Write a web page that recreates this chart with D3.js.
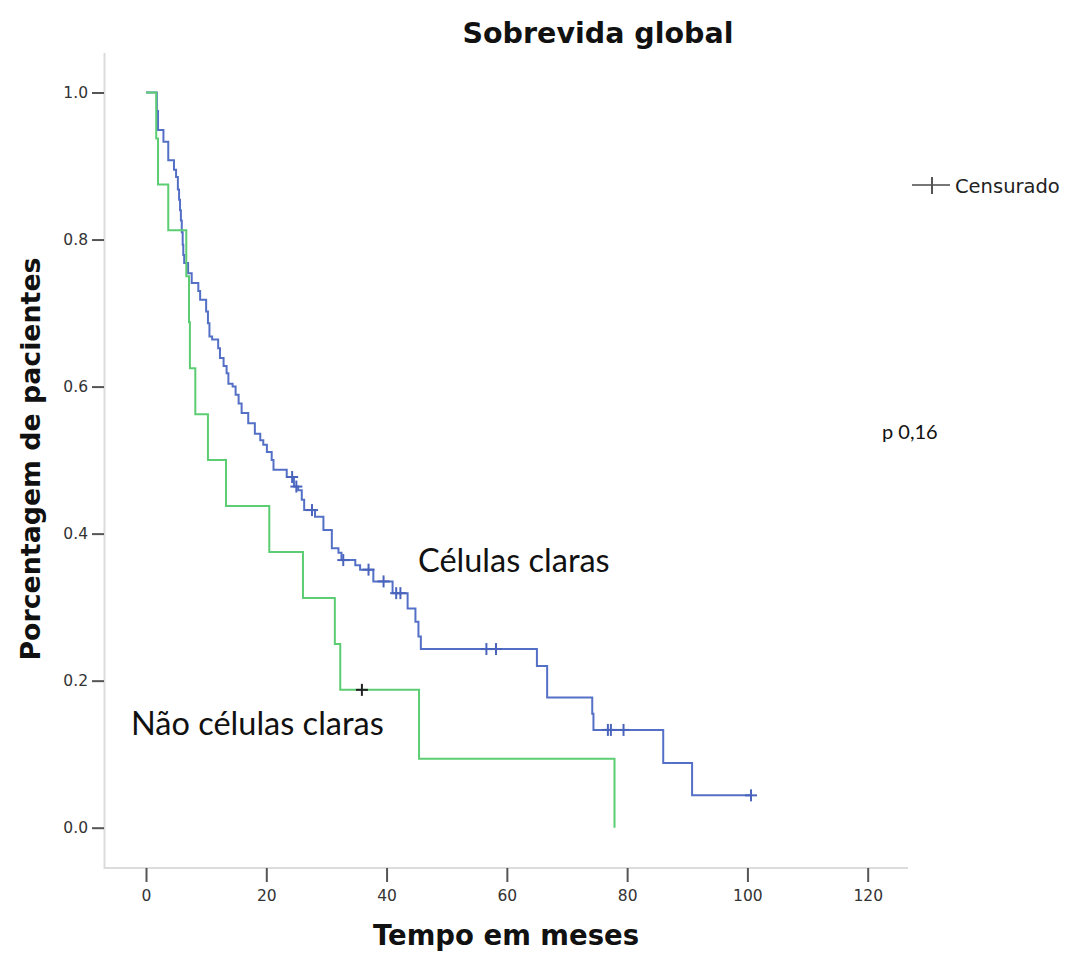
<!DOCTYPE html>
<html>
<head>
<meta charset="utf-8">
<script src="https://cdn.jsdelivr.net/npm/d3@7"></script>
<style>
  html, body { margin: 0; padding: 0; background: #fff; }
  svg { display: block; }
</style>
</head>
<body>
<svg id="chart" width="1068" height="954"></svg>
<script>
// Kaplan–Meier: overall survival by histology
const xTicks = [0, 20, 40, 60, 80, 100, 120];
const yTicks = [0.0, 0.2, 0.4, 0.6, 0.8, 1.0];

// Células claras: event times (months) and survival after each event
const claraTimes = [1.8, 2.0, 2.9, 3.7, 4.65, 5.0, 5.3, 5.5, 5.66, 5.8, 5.95, 6.1, 6.2, 6.35,
  7.0, 7.6, 8.7, 9.0, 10.0, 10.3, 10.55, 11.0, 12.0, 12.3, 12.9, 13.4, 13.7, 14.4, 14.9,
  15.4, 15.9, 17.0, 18.1, 19.0, 19.5, 20.1, 20.9, 21.2, 23.4, 24.6, 25.3, 25.9, 26.3,
  28.1, 29.5, 30.9, 32.0, 32.5, 34.8, 35.6, 37.8, 41.0, 43.5, 44.8, 45.3, 45.7, 65.0,
  66.7, 74.2, 74.4, 86.0, 90.8];
const claraSurv = [0.975, 0.949, 0.933, 0.908, 0.895, 0.885, 0.868, 0.854, 0.840, 0.826,
  0.810, 0.793, 0.779, 0.768, 0.754, 0.741, 0.730, 0.718, 0.702, 0.686, 0.668, 0.664,
  0.652, 0.639, 0.628, 0.618, 0.604, 0.600, 0.589, 0.577, 0.564, 0.550, 0.536, 0.527,
  0.521, 0.511, 0.500, 0.487, 0.477, 0.464, 0.459, 0.446, 0.432, 0.423, 0.405, 0.380,
  0.374, 0.364, 0.357, 0.351, 0.335, 0.319, 0.298, 0.280, 0.260, 0.243, 0.220, 0.177,
  0.155, 0.133, 0.088, 0.044];
const claraCensorTimes = [24.3, 25.0, 27.6, 32.8, 37.0, 39.5, 41.6, 42.3, 56.6, 58.2,
  76.8, 77.3, 79.4, 100.6];
const claraEnd = 100.6;

// Não células claras
const naoTimes = [1.7, 2.0, 3.7, 6.7, 7.15, 7.3, 8.2, 10.3, 13.3, 20.5, 26.1, 31.4, 32.3, 45.4, 77.9];
const naoSurv = [0.9375, 0.875, 0.8125, 0.75, 0.6875, 0.625, 0.5625, 0.5, 0.4375, 0.375,
  0.3125, 0.25, 0.1875, 0.09375, 0];
const naoCensorTimes = [35.9];
const naoEnd = 77.9;

const svg = d3.select("#chart");

const x = d3.scaleLinear().domain([0, 120]).range([146, 867.7]);
const y = d3.scaleLinear().domain([0, 1]).range([827.7, 92.5]);

// survival value at time t (right-continuous step function)
function survAt(times, surv, t) {
  let s = 1;
  for (let i = 0; i < times.length; i++) if (times[i] <= t) s = surv[i];
  return s;
}

function curvePoints(times, surv, end) {
  const pts = [[0, 1]];
  times.forEach((t, i) => pts.push([t, surv[i]]));
  if (end > times[times.length - 1]) pts.push([end, surv[surv.length - 1]]);
  return pts;
}

// axis frame
const axisColor = "#dcdcdc";
svg.append("line").attr("x1", 104.5).attr("x2", 104.5).attr("y1", 53).attr("y2", 869)
  .attr("stroke", axisColor).attr("stroke-width", 2);
svg.append("line").attr("x1", 104).attr("x2", 908).attr("y1", 868).attr("y2", 868)
  .attr("stroke", axisColor).attr("stroke-width", 2);

// y axis ticks and labels
const yAxis = d3.axisLeft(y).tickValues(yTicks).tickFormat(d3.format(".1f"))
  .tickSize(12).tickPadding(4);
const gy = svg.append("g").attr("transform", "translate(104,0)").call(yAxis);
gy.select(".domain").remove();
gy.selectAll(".tick line").attr("stroke", "#555").attr("stroke-width", 2);
gy.selectAll(".tick text").attr("fill", "#333")
  .style("font-family", "DejaVu Sans").style("font-size", "15.5px");

// x axis ticks and labels
const xAxis = d3.axisBottom(x).tickValues(xTicks).tickFormat(d3.format("d"))
  .tickSize(14).tickPadding(8);
const gx = svg.append("g").attr("transform", "translate(0,868)").call(xAxis);
gx.select(".domain").remove();
gx.selectAll(".tick line").attr("stroke", "#555").attr("stroke-width", 2);
gx.selectAll(".tick text").attr("fill", "#333")
  .style("font-family", "DejaVu Sans").style("font-size", "15.5px");

// survival curves
const stepLine = d3.line().x(d => x(d[0])).y(d => y(d[1])).curve(d3.curveStepAfter);

const blue = "#5470c6";
const green = "#5ccd72";

svg.append("path").datum(curvePoints(claraTimes, claraSurv, claraEnd))
  .attr("d", stepLine).attr("fill", "none").attr("stroke", blue).attr("stroke-width", 2);
svg.append("path").datum(curvePoints(naoTimes, naoSurv, naoEnd))
  .attr("d", stepLine).attr("fill", "none").attr("stroke", green).attr("stroke-width", 2);

// censor marks
function censors(times, surv, cens, color) {
  const g = svg.append("g");
  cens.forEach(t => {
    const cx = x(t), cy = y(survAt(times, surv, t));
    g.append("line").attr("x1", cx).attr("x2", cx).attr("y1", cy - 6).attr("y2", cy + 6)
      .attr("stroke", color).attr("stroke-width", 2);
    g.append("line").attr("x1", cx - 6).attr("x2", cx + 6).attr("y1", cy).attr("y2", cy)
      .attr("stroke", color).attr("stroke-width", 2);
  });
}
censors(claraTimes, claraSurv, claraCensorTimes, "#4a64bd");
censors(naoTimes, naoSurv, naoCensorTimes, "#222");

// title and axis titles
svg.append("text").attr("x", 598).attr("y", 43).attr("text-anchor", "middle")
  .style("font-family", "DejaVu Sans").style("font-weight", "bold").style("font-size", "28.5px")
  .attr("fill", "#111").text("Sobrevida global");
svg.append("text").attr("x", 506).attr("y", 945).attr("text-anchor", "middle")
  .style("font-family", "DejaVu Sans").style("font-weight", "bold").style("font-size", "27.5px")
  .attr("fill", "#111").text("Tempo em meses");
svg.append("text").attr("transform", "translate(40,459) rotate(-90)").attr("text-anchor", "middle")
  .style("font-family", "DejaVu Sans").style("font-weight", "bold").style("font-size", "26.8px")
  .attr("fill", "#111").text("Porcentagem de pacientes");

// curve labels
svg.append("text").attr("x", 418).attr("y", 572)
  .style("font-family", "Lato").style("font-size", "32.5px").attr("fill", "#111")
  .text("Células claras");
svg.append("text").attr("x", 131).attr("y", 735)
  .style("font-family", "Lato").style("font-size", "32.5px").attr("fill", "#111")
  .text("Não células claras");

// p-value
svg.append("text").attr("x", 882).attr("y", 439)
  .style("font-family", "Lato").style("font-size", "20px").attr("fill", "#111")
  .text("p 0,16");

// legend: censored marker
const lg = svg.append("g");
lg.append("line").attr("x1", 912).attr("x2", 950).attr("y1", 185).attr("y2", 185)
  .attr("stroke", "#777").attr("stroke-width", 2);
lg.append("line").attr("x1", 932).attr("x2", 932).attr("y1", 177).attr("y2", 194)
  .attr("stroke", "#555").attr("stroke-width", 2);
lg.append("text").attr("x", 955).attr("y", 193)
  .style("font-family", "DejaVu Sans").style("font-size", "19.5px").attr("fill", "#222")
  .text("Censurado");
</script>
</body>
</html>
